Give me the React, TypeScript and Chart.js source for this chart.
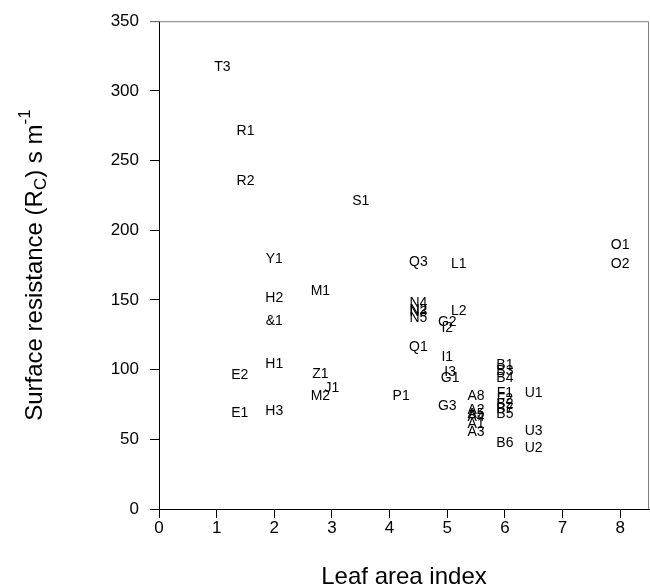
import React, { useEffect, useRef } from "react";
import { Chart, registerables } from "chart.js";

Chart.register(...registerables);

const siteLabels = [
  "T3", "R1", "R2", "S1", "Y1", "Q3", "L1", "O1", "O2", "M1", "H2",
  "N4", "N2", "N3", "N5", "L2", "&1", "G2", "I2", "Q1", "I1", "H1",
  "I3", "G1", "B1", "B3", "B4", "E2", "Z1", "J1", "M2", "P1", "U1",
  "A8", "F1", "F2", "B2", "B7", "B5", "G3", "A2", "A5", "A4", "A1",
  "A3", "U3", "B6", "U2", "E1", "H3",
];
const leafAreaIndex = [
  1.1, 1.5, 1.5, 3.5, 2.0, 4.5, 5.2, 8.0, 8.0, 2.8, 2.0,
  4.5, 4.5, 4.5, 4.5, 5.2, 2.0, 5.0, 5.0, 4.5, 5.0, 2.0,
  5.05, 5.05, 6.0, 6.0, 6.0, 1.4, 2.8, 3.0, 2.8, 4.2, 6.5,
  5.5, 6.0, 6.0, 6.0, 6.0, 6.0, 5.0, 5.5, 5.5, 5.5, 5.5,
  5.5, 6.5, 6.0, 6.5, 1.4, 2.0,
];
const surfaceResistance = [
  317, 271, 235, 221, 179, 177, 176, 189, 176, 156, 151,
  148, 143, 141, 137, 142, 135, 134, 130, 116, 109, 104,
  98, 94, 103, 99, 94, 96, 97, 87, 81, 81, 83,
  81, 83, 79, 75, 72, 68, 74, 71, 68, 66, 61,
  55, 56, 47, 44, 69, 70,
];
const xTicks = [0, 1, 2, 3, 4, 5, 6, 7, 8];
const yTicks = [0, 50, 100, 150, 200, 250, 300, 350];

const FONT = "'Liberation Sans', Arial, sans-serif";

const labelPlugin = {
  id: "labels",
  afterDatasetsDraw(chart: any) {
    const { ctx, chartArea } = chart;
    ctx.save();
    // top and right frame lines
    ctx.strokeStyle = "#808080";
    ctx.lineWidth = 1;
    ctx.beginPath();
    ctx.moveTo(chartArea.left - 9, chartArea.top + 0.5);
    ctx.lineTo(chartArea.right - 0.5, chartArea.top + 0.5);
    ctx.lineTo(chartArea.right - 0.5, chartArea.bottom);
    ctx.stroke();
    // point labels
    ctx.fillStyle = "#000";
    ctx.font = `14px ${FONT}`;
    ctx.textAlign = "center";
    ctx.textBaseline = "middle";
    const meta = chart.getDatasetMeta(0);
    meta.data.forEach((pt: any, i: number) => {
      ctx.fillText(siteLabels[i], pt.x, pt.y);
    });
    // x title
    ctx.font = `24px ${FONT}`;
    ctx.textBaseline = "middle";
    ctx.fillText("Leaf area index", (chartArea.left + chartArea.right) / 2, 577);
    // y title with sub/superscript
    ctx.translate(35, (chartArea.top + chartArea.bottom) / 2);
    ctx.rotate(-Math.PI / 2);
    const parts: [string, number, number][] = [
      ["Surface resistance (R", 24, 0],
      ["C", 17, 6],
      [") s m", 24, 0],
      ["-1", 17, -10],
    ];
    let total = 0;
    parts.forEach(([t, s]) => {
      ctx.font = `${s}px ${FONT}`;
      total += ctx.measureText(t).width;
    });
    let x = -total / 2;
    ctx.textAlign = "left";
    parts.forEach(([t, s, dy]) => {
      ctx.font = `${s}px ${FONT}`;
      ctx.fillText(t, x, dy);
      x += ctx.measureText(t).width;
    });
    ctx.restore();
  },
};

export default function App() {
  const ref = useRef<HTMLCanvasElement>(null);
  useEffect(() => {
    const data = leafAreaIndex.map((x, i) => ({ x, y: surfaceResistance[i] }));
    const chart = new Chart(ref.current!, {
      type: "scatter",
      data: {
        datasets: [{ data, pointRadius: 0, pointHoverRadius: 0, backgroundColor: "transparent" }],
      },
      options: {
        animation: false,
        responsive: false,
        events: [],
        layout: { padding: { left: 0, top: 19, right: 1, bottom: 0 } },
        plugins: { legend: { display: false }, tooltip: { enabled: false } },
        scales: {
          x: {
            type: "linear",
            min: 0,
            max: 8.5,
            afterBuildTicks: (s: any) => { s.ticks = xTicks.map((v) => ({ value: v })); },
            afterFit: (s: any) => { s.height = 79; },
            border: { display: true, color: "#000", width: 1 },
            grid: { drawOnChartArea: false, drawTicks: true, tickLength: 9, color: "#000" },
            ticks: { color: "#000", font: { family: FONT, size: 17 }, padding: 0, maxRotation: 0 },
          },
          y: {
            type: "linear",
            min: 0,
            max: 350,
            afterBuildTicks: (s: any) => { s.ticks = yTicks.map((v) => ({ value: v })); },
            afterFit: (s: any) => { s.width = 159; },
            border: { display: true, color: "#000", width: 1 },
            grid: { drawOnChartArea: false, drawTicks: true, tickLength: 9, color: "#000" },
            ticks: { color: "#000", font: { family: FONT, size: 17 }, padding: 11 },
          },
        },
      },
      plugins: [labelPlugin],
    });
    return () => chart.destroy();
  }, []);
  return (
    <div style={{ position: "absolute", left: 0, top: 0, width: 650, height: 588, background: "#fff" }}>
      <canvas ref={ref} width={650} height={588} style={{ width: 650, height: 588 }} />
    </div>
  );
}
